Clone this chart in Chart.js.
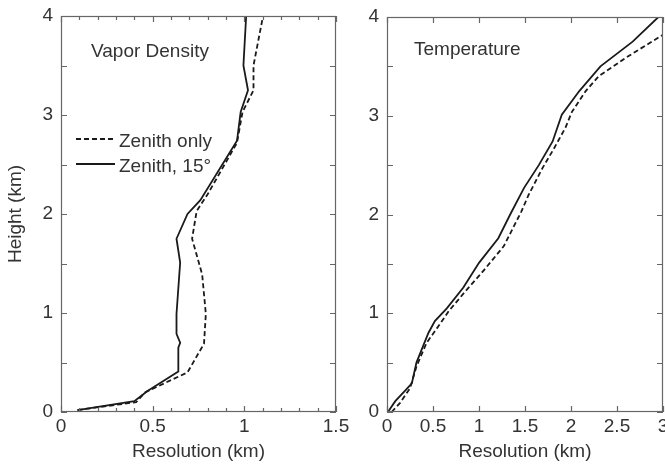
<!DOCTYPE html>
<html>
<head>
<meta charset="utf-8">
<script src="https://cdn.jsdelivr.net/npm/chart.js@4.4.1/dist/chart.umd.min.js"></script>
<style>
  html, body { margin: 0; padding: 0; background: #fff; }
  #wrap { position: relative; width: 665px; height: 465px; }
  canvas { position: absolute; left: 0; top: 0; }
</style>
</head>
<body>
<div id="wrap">
  <canvas id="vapor" width="665" height="465"></canvas>
  <canvas id="temp" width="665" height="465"></canvas>
</div>
<script>
// Vapor density panel (resolution in km vs height in km)
const vaporOnlyHeight = [0.02, 0.10, 0.20, 0.40, 0.69, 0.99, 1.39, 1.75, 2.03, 2.20, 2.72, 3.03, 3.25, 3.50, 3.98];
const vaporOnlyRes    = [0.09, 0.41, 0.46, 0.69, 0.78, 0.79, 0.77, 0.715, 0.74, 0.80, 0.96, 0.99, 1.05, 1.05, 1.10];
const vaporBothHeight = [0.02, 0.11, 0.21, 0.41, 0.65, 0.70, 0.79, 0.99, 1.51, 1.75, 2.00, 2.14, 2.74, 3.03, 3.25, 3.50, 4.00];
const vaporBothRes    = [0.09, 0.40, 0.47, 0.64, 0.64, 0.65, 0.63, 0.63, 0.65, 0.63, 0.69, 0.76, 0.96, 0.98, 1.02, 0.995, 1.01];

// Temperature panel
const tempOnlyHeight = [0.00, 0.09, 0.24, 0.46, 0.70, 0.87, 1.02, 1.22, 1.41, 1.68, 2.03, 2.20, 2.47, 2.66, 2.88, 3.04, 3.25, 3.40, 3.59, 3.82];
const tempOnlyRes    = [0.05, 0.14, 0.25, 0.32, 0.43, 0.56, 0.67, 0.85, 1.03, 1.27, 1.46, 1.54, 1.69, 1.81, 1.94, 2.01, 2.16, 2.30, 2.60, 3.00];
const tempBothHeight = [0.00, 0.11, 0.23, 0.29, 0.50, 0.80, 0.92, 1.05, 1.26, 1.51, 1.76, 2.02, 2.27, 2.50, 2.74, 3.01, 3.25, 3.50, 3.75, 4.00];
const tempBothRes    = [0.01, 0.09, 0.21, 0.27, 0.32, 0.45, 0.52, 0.65, 0.83, 1.00, 1.21, 1.35, 1.49, 1.65, 1.80, 1.90, 2.09, 2.32, 2.67, 2.95];

const seriesLabels = ['Zenith only', 'Zenith, 15\u00b0'];
const panelTitles = ['Vapor Density', 'Temperature'];

const FONT = "'Liberation Sans', Arial, Helvetica, sans-serif";
const FSIZE = 19;
const INK = '#1a1a1a';
const TEXT = '#333';
const LW = 1.8;

const toPoints = (xs, ys) => xs.map((x, i) => ({ x: x, y: ys[i] }));

// frame, inward ticks, panel label and (optional) legend
const framePlugin = {
  id: 'frame',
  afterDraw(chart, args, opts) {
    const ctx = chart.ctx;
    const a = chart.chartArea;
    const xs = chart.scales.x, ys = chart.scales.y;
    ctx.save();
    ctx.strokeStyle = '#666';
    ctx.lineWidth = 1.2;
    ctx.strokeRect(a.left + 0.5, a.top + 0.5, a.right - a.left - 1, a.bottom - a.top - 1);

    ctx.beginPath();
    for (let v = xs.min; v <= xs.max + 1e-9; v += opts.xMinor) {
      const px = Math.round(xs.getPixelForValue(v)) + 0.5;
      const major = Math.abs(v / 0.5 - Math.round(v / 0.5)) < 1e-6;
      const len = major ? 6 : 4;
      ctx.moveTo(px, a.bottom); ctx.lineTo(px, a.bottom - len);
      ctx.moveTo(px, a.top); ctx.lineTo(px, a.top + len);
    }
    for (let v = ys.min; v <= ys.max + 1e-9; v += 0.5) {
      const py = Math.round(ys.getPixelForValue(v)) + 0.5;
      ctx.moveTo(a.left, py); ctx.lineTo(a.left + 6, py);
      ctx.moveTo(a.right, py); ctx.lineTo(a.right - 6, py);
    }
    ctx.stroke();

    ctx.fillStyle = TEXT;
    ctx.font = FSIZE + 'px ' + FONT;
    ctx.textBaseline = 'middle';
    ctx.textAlign = 'left';
    ctx.fillText(opts.title, opts.titleX, opts.titleY);

    if (opts.legend) {
      const lg = opts.legend;
      chart.data.datasets.forEach((ds, i) => {
        const y = lg.y + i * lg.gap;
        ctx.beginPath();
        ctx.strokeStyle = INK;
        ctx.lineWidth = LW;
        ctx.setLineDash(ds.borderDash || []);
        ctx.moveTo(lg.x, y); ctx.lineTo(lg.x + 39, y);
        ctx.stroke();
        ctx.setLineDash([]);
        ctx.fillText(ds.label, lg.x + 43, y + 3);
      });
    }
    ctx.restore();
  }
};

const fmt = v => String(Number(v.toFixed(2)));

function makePanel(id, cfg) {
  return new Chart(document.getElementById(id), {
    type: 'scatter',
    data: {
      datasets: [
        { label: seriesLabels[0], data: cfg.only, showLine: true, borderColor: INK, borderWidth: LW,
          borderDash: [5, 3], pointRadius: 0, fill: false },
        { label: seriesLabels[1], data: cfg.both, showLine: true, borderColor: INK, borderWidth: LW,
          pointRadius: 0, fill: false }
      ]
    },
    options: {
      responsive: false,
      animation: false,
      devicePixelRatio: 1,
      layout: { padding: cfg.padding },
      plugins: {
        legend: { display: false },
        tooltip: { enabled: false },
        frame: cfg.frame
      },
      scales: {
        x: {
          type: 'linear', min: 0, max: cfg.xMax,
          grid: { display: false, drawTicks: false },
          border: { display: false },
          ticks: { stepSize: 0.5, padding: 3, color: TEXT, font: { family: FONT, size: FSIZE }, maxRotation: 0,
                   callback: fmt },
          title: { display: true, text: 'Resolution (km)', color: TEXT, font: { family: FONT, size: FSIZE },
                   padding: { top: 0, bottom: 2 } },
          afterFit(s) { s.height = 53; s.paddingLeft = 0; s.paddingRight = 0; }
        },
        y: {
          type: 'linear', min: 0, max: 4,
          grid: { display: false, drawTicks: false },
          border: { display: false },
          ticks: { stepSize: 1, padding: 8, color: TEXT, font: { family: FONT, size: FSIZE }, callback: fmt },
          title: { display: cfg.yTitle, text: 'Height (km)', color: TEXT, font: { family: FONT, size: FSIZE },
                   padding: { top: 4, bottom: 0 } },
          afterFit(s) { s.width = cfg.yWidth; s.paddingTop = 0; s.paddingBottom = 0; }
        }
      }
    },
    plugins: [framePlugin]
  });
}

makePanel('vapor', {
  only: toPoints(vaporOnlyRes, vaporOnlyHeight),
  both: toPoints(vaporBothRes, vaporBothHeight),
  xMax: 1.5,
  yTitle: true,
  yWidth: 61,
  padding: { left: 0, right: 329, top: 16, bottom: 0 },
  frame: { xMinor: 0.1, title: panelTitles[0], titleX: 91, titleY: 52,
           legend: { x: 76, y: 139, gap: 25 } }
});

makePanel('temp', {
  only: toPoints(tempOnlyRes, tempOnlyHeight),
  both: toPoints(tempBothRes, tempBothHeight),
  xMax: 3,
  yTitle: false,
  yWidth: 47,
  padding: { left: 340, right: 2, top: 17, bottom: 0 },
  frame: { xMinor: 0.5, title: panelTitles[1], titleX: 414, titleY: 50 }
});
</script>
</body>
</html>
